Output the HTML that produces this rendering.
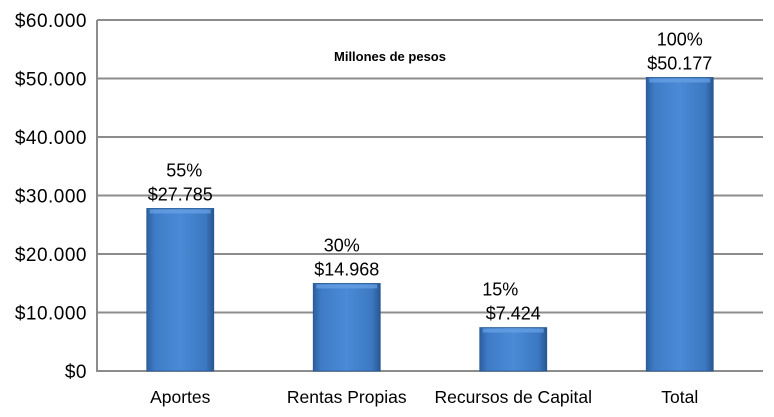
<!DOCTYPE html>
<html><head><meta charset="utf-8"><style>
body{margin:0;background:#fff;}
svg{display:block;font-family:"Liberation Sans",sans-serif;}
</style></head><body>
<svg id="chart" width="774" height="417" viewBox="0 0 774 417">
<defs>
<linearGradient id="bg" x1="0" x2="1" y1="0" y2="0">
<stop offset="0" stop-color="#2c5f9e"/><stop offset="0.12" stop-color="#3f7cc8"/>
<stop offset="0.5" stop-color="#4a8ad6"/><stop offset="0.88" stop-color="#3c78c2"/><stop offset="1" stop-color="#27568f"/>
</linearGradient>
</defs>
<g id="grid"></g><g id="bars"></g><g id="labels"></g>
<text x="390" y="61" font-size="13" font-weight="bold" text-anchor="middle">Millones de pesos</text>
</svg>
<script>
const categories = ["Aportes","Rentas Propias","Recursos de Capital","Total"];
const values = [27785,14968,7424,50177];
const valueLabels = ["$27.785","$14.968","$7.424","$50.177"];
const pctLabels = ["55%","30%","15%","100%"];
const tickValues = [0,10000,20000,30000,40000,50000,60000];
const tickLabels = ["$0","$10.000","$20.000","$30.000","$40.000","$50.000","$60.000"];
const NS="http://www.w3.org/2000/svg";
const L=97,R=763,T=20,B=371,MAX=60000;
const y=v=>B-(v/MAX)*(B-T);
const bw=(R-L)/categories.length;
const xc=i=>L+bw*(i+0.5);
function mk(tag,attrs,parent,text){const e=document.createElementNS(NS,tag);for(const k in attrs)e.setAttribute(k,attrs[k]);if(text!==undefined)e.textContent=text;document.getElementById(parent).appendChild(e);return e;}
tickValues.forEach((t,i)=>{
  const g=mk('line',{x1:L,x2:R,y1:y(t),y2:y(t),stroke:'#8c8c8c','stroke-width':2},'grid');
  
  
  const tl=mk('text',{x:L-10,y:y(t)+7,'font-size':19,'letter-spacing':0.5,'text-anchor':'end',fill:'#000'},'grid',tickLabels[i]);
  
  
});
const ax=mk('line',{x1:L,x2:L,y1:T,y2:B+1,stroke:'#8c8c8c','stroke-width':2},'grid');


const w=67;
values.forEach((v,i)=>{
  const b=mk('rect',{x:xc(i)-w/2,y:y(v),width:w,height:B-y(v),fill:'url(#bg)',stroke:'#2a5a94','stroke-width':0.8},'bars');
  
  
  const hl=mk('rect',{x:xc(i)-w/2+3,y:y(v)+1,width:w-6,height:4,fill:'#6aa3e6',opacity:0.7},'bars');
  
  
  const vl=mk('text',{x:xc(i),y:y(v)-8,'font-size':18,'text-anchor':'middle'},'labels',valueLabels[i]);
  
  
  const pl=mk('text',{x:xc(i)+(i==0?4:i==1?-5:i==2?-13:0),y:y(v)-32,'font-size':18,'text-anchor':'middle'},'labels',pctLabels[i]);
  
  
  const cl=mk('text',{x:xc(i),y:403,'font-size':17.5,'text-anchor':'middle'},'labels',categories[i]);
  
  
});
</script>
</body></html>
